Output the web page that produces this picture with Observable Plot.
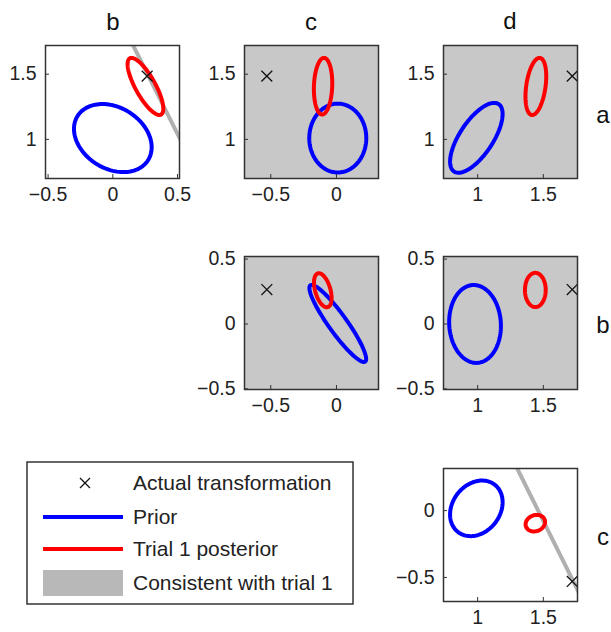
<!DOCTYPE html>
<html><head><meta charset="utf-8">
<script src="https://cdn.jsdelivr.net/npm/d3@7"></script>
<script src="https://cdn.jsdelivr.net/npm/@observablehq/plot@0.6"></script>
<style>
body{margin:0;background:#fff;}
#root{position:relative;width:611px;height:632px;font-family:"Liberation Sans",Arial,sans-serif;color:#111;overflow:hidden;}
.panel{position:absolute;}
.lab{position:absolute;font-size:24px;transform:translate(-50%,-50%);line-height:1;}
</style></head><body><div id="root"></div>
<script>
// ---- data ----
const paramNames = ["a", "b", "c", "d"];
const actualTransform = [1.485, 0.265, -0.53, 1.72];

// panels (row parameter on y, column parameter on x)
const panelRows   = ["a", "a", "a", "b", "b", "c"];
const panelCols   = ["b", "c", "d", "c", "d", "d"];
const panelShaded = [false, true, true, true, true, false];

// prior ellipses: centre, half-extent in x, half-extent in y, correlation
const priorCx  = [0.00, 0.01, 0.99, 0.01, 0.98, 0.99];
const priorCy  = [1.01, 1.01, 1.012, 0.004, 0.00, 0.017];
const priorSx  = [0.300, 0.217, 0.200, 0.216, 0.197, 0.200];
const priorSy  = [0.261, 0.264, 0.268, 0.297, 0.300, 0.208];
const priorRho = [-0.27, 0.00, 0.68, -0.92, -0.05, 0.22];

// trial 1 posterior ellipses
const postCx  = [0.252, -0.102, 1.443, -0.104, 1.439, 1.439];
const postCy  = [1.406, 1.408, 1.406, 0.260, 0.262, -0.094];
const postSx  = [0.138, 0.070, 0.079, 0.067, 0.079, 0.074];
const postSy  = [0.219, 0.217, 0.219, 0.131, 0.132, 0.062];
const postRho = [-0.78, 0.10, 0.35, -0.45, 0.00, 0.15];

// "consistent with trial 1" lines (panels where it is a line)
const consRow = ["a", "c"];
const consCol = ["b", "d"];
const consX1 = [0.147, 1.29];
const consY1 = [1.74, 0.337];
const consX2 = [0.53, 1.78];
const consY2 = [0.982, -0.632];

// axis domains and ticks
const colDomainB = [-0.52, 0.515], colDomainC = [-0.70, 0.32], colDomainD = [0.74, 1.76];
const rowDomainA = [0.70, 1.72], rowDomainB = [-0.505, 0.52], rowDomainC = [-0.68, 0.315];
const colTicksB = [-0.5, 0, 0.5], colTicksC = [-0.5, 0], colTicksD = [1, 1.5];
const rowTicksA = [1, 1.5], rowTicksB = [-0.5, 0, 0.5], rowTicksC = [-0.5, 0];

const legendLabels = ["Actual transformation", "Prior", "Trial 1 posterior", "Consistent with trial 1"];

// ---- layout ----
const colDomain = {b: colDomainB, c: colDomainC, d: colDomainD};
const rowDomain = {a: rowDomainA, b: rowDomainB, c: rowDomainC};
const colTicks = {b: colTicksB, c: colTicksC, d: colTicksD};
const rowTicks = {a: rowTicksA, b: rowTicksB, c: rowTicksC};
const colLeft = {b: 45, c: 244, d: 443};
const rowTop = {a: 45, b: 256, c: 468};
const FW = 134, FH = 133;
const ML = 48, MR = 12, MT = 6, MB = 36;
const FONT = '"Liberation Sans", Arial, sans-serif';

const root = document.getElementById("root");
const fmt = d3.format("");
const truthOf = p => actualTransform[paramNames.indexOf(p)];

function ellipse(cx, cy, sx, sy, rho) {
  const s = Math.sqrt(1 - rho * rho);
  return d3.range(0, 361, 3).map(deg => {
    const t = deg * Math.PI / 180;
    return {x: cx + sx * Math.cos(t), y: cy + sy * (rho * Math.cos(t) + s * Math.sin(t))};
  });
}

panelRows.forEach((r, i) => {
  const c = panelCols[i];
  const xd = colDomain[c], yd = rowDomain[r];
  const marks = [];
  if (panelShaded[i]) marks.push(Plot.frame({fill: "#c8c8c8"}));
  consRow.forEach((cr, j) => {
    if (cr === r && consCol[j] === c) {
      marks.push(Plot.link([0], {x1: () => consX1[j], y1: () => consY1[j], x2: () => consX2[j], y2: () => consY2[j],
        stroke: "#b0b0b0", strokeWidth: 4, clip: true}));
    }
  });
  marks.push(Plot.line(ellipse(priorCx[i], priorCy[i], priorSx[i], priorSy[i], priorRho[i]),
    {x: "x", y: "y", stroke: "#0000ff", strokeWidth: 4, curve: "linear-closed"}));
  marks.push(Plot.line(ellipse(postCx[i], postCy[i], postSx[i], postSy[i], postRho[i]),
    {x: "x", y: "y", stroke: "#ff0000", strokeWidth: 4, curve: "linear-closed"}));
  marks.push(Plot.dot([{x: truthOf(c), y: truthOf(r)}], {x: "x", y: "y", symbol: "times", r: 5, stroke: "#111", strokeWidth: 1.3}));
  // small inner tick marks
  const tx = (xd[1] - xd[0]) * 4 / FW, ty = (yd[1] - yd[0]) * 4 / FH;
  marks.push(Plot.ruleX(colTicks[c], {x: d => d, y1: yd[0], y2: yd[0] + ty, stroke: "#333"}));
  marks.push(Plot.ruleY(rowTicks[r], {y: d => d, x1: xd[0], x2: xd[0] + tx, stroke: "#333"}));
  marks.push(Plot.axisX({ticks: colTicks[c], tickSize: 0, tickPadding: 9, tickFormat: fmt, label: null,
    fontSize: 19.5, fontFamily: FONT, fill: "#222"}));
  marks.push(Plot.axisY({ticks: rowTicks[r], tickSize: 0, tickPadding: 9, tickFormat: fmt, label: null,
    fontSize: 19.5, fontFamily: FONT, fill: "#222"}));
  marks.push(Plot.frame({stroke: "#333", strokeWidth: 1.5}));

  const svg = Plot.plot({
    width: FW + ML + MR, height: FH + MT + MB,
    marginLeft: ML, marginRight: MR, marginTop: MT, marginBottom: MB,
    x: {domain: xd}, y: {domain: yd},
    style: {fontFamily: FONT, fontSize: "19.5px", color: "#222", background: "transparent", overflow: "visible"},
    marks
  });
  svg.classList.add("panel");
  svg.style.left = (colLeft[c] - ML) + "px";
  svg.style.top = (rowTop[r] - MT) + "px";
  root.appendChild(svg);
});

// column titles and row labels
const colTitlePos = {b: [113, 22], c: [311, 22], d: [510, 21]};
const rowLabelPos = {a: [603, 115], b: [603, 325], c: [603, 537]};
function label(txt, pos) {
  const d = document.createElement("div");
  d.className = "lab"; d.textContent = txt;
  d.style.left = pos[0] + "px"; d.style.top = pos[1] + "px";
  root.appendChild(d);
}
Object.keys(colTitlePos).forEach(k => label(k, colTitlePos[k]));
Object.keys(rowLabelPos).forEach(k => label(k, rowLabelPos[k]));

// legend
const ns = "http://www.w3.org/2000/svg";
const lg = document.createElementNS(ns, "svg");
lg.setAttribute("width", 340); lg.setAttribute("height", 160);
lg.style.position = "absolute"; lg.style.left = "20px"; lg.style.top = "455px";
const ox = 20, oy = 455;
const rowY = [483, 517, 549, 583];
let html = `<rect x="${27-ox}" y="${462-oy}" width="326" height="142" fill="#fff" stroke="#333" stroke-width="1.5"/>`;
html += `<path d="M${85-ox-5},${rowY[0]-oy-5}L${85-ox+5},${rowY[0]-oy+5}M${85-ox-5},${rowY[0]-oy+5}L${85-ox+5},${rowY[0]-oy-5}" stroke="#111" stroke-width="1.3"/>`;
html += `<line x1="${43-ox}" x2="${123-ox}" y1="${rowY[1]-oy}" y2="${rowY[1]-oy}" stroke="#0000ff" stroke-width="4"/>`;
html += `<line x1="${43-ox}" x2="${123-ox}" y1="${rowY[2]-oy}" y2="${rowY[2]-oy}" stroke="#ff0000" stroke-width="4"/>`;
html += `<rect x="${43-ox}" y="${570-oy}" width="80" height="26" fill="#b8b8b8"/>`;
legendLabels.forEach((t, i) => {
  html += `<text x="${133-ox}" y="${rowY[i]-oy}" dy="0.35em" font-family="Liberation Sans, Arial, sans-serif" font-size="21" fill="#222">${t}</text>`;
});
lg.innerHTML = html;
root.appendChild(lg);
</script></body></html>
